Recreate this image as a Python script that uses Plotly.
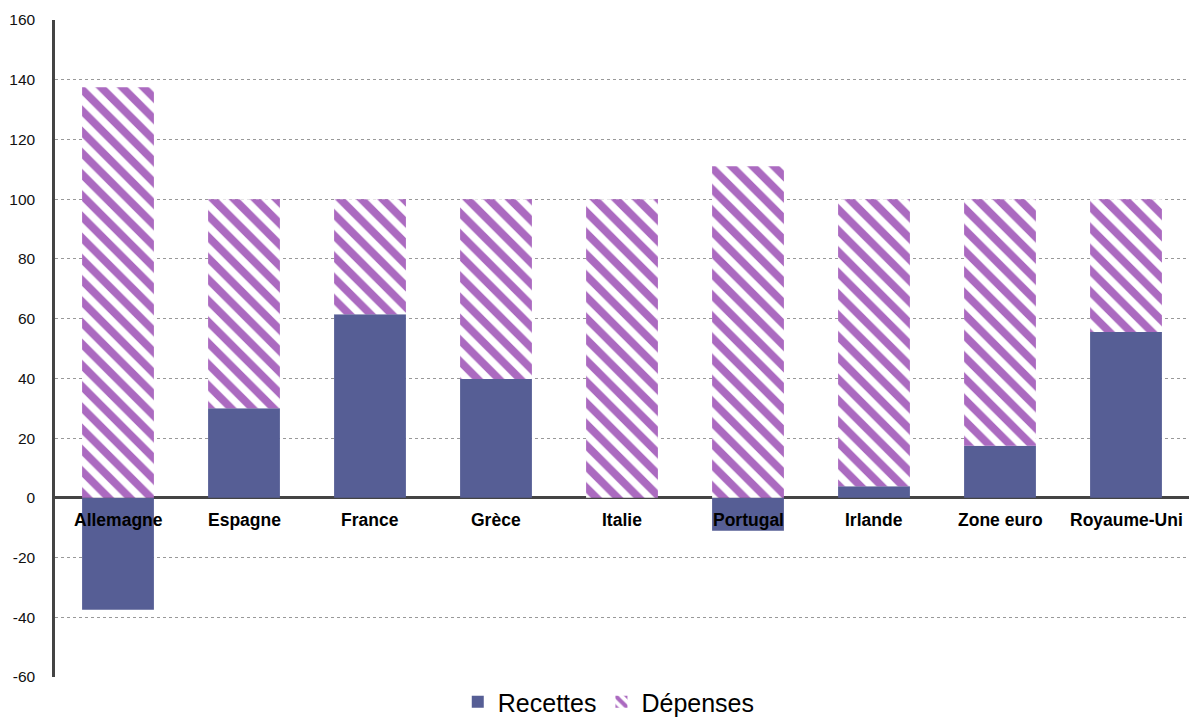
import plotly.graph_objects as go

categories = ["Allemagne", "Espagne", "France", "Grèce", "Italie", "Portugal", "Irlande", "Zone euro", "Royaume-Uni"]
recettes = [-37.5, 30, 61.5, 39.8, 0, -11, 3.9, 17.4, 55.5]
depenses = [137.5, 70, 38.5, 60.2, 100, 111, 96.1, 82.6, 44.5]
y_ticks = [-60, -40, -20, 0, 20, 40, 60, 80, 100, 120, 140, 160]
y_tick_labels = ["-60", "-40", "-20", "0", "20", "40", "60", "80", "100", "120", "140", "160"]

FONT = "Liberation Sans, Arial, Helvetica, sans-serif"

fig = go.Figure()
fig.add_trace(go.Bar(
    x=categories, y=recettes, name="Recettes",
    marker=dict(color="#565e95", line=dict(width=0)),
))
fig.add_trace(go.Bar(
    x=categories, y=depenses, name="Dépenses",
    marker=dict(color="white", line=dict(width=0),
                pattern=dict(shape="\\", fgcolor="#ab6ac0", bgcolor="white",
                             fgopacity=1, size=15, solidity=0.52,
                             fillmode="replace")),
))

for c in categories:
    fig.add_annotation(x=c, y=0, xref="x", yref="y", text=f"<b>{c}</b>",
                       showarrow=False, yanchor="top", yshift=-10,
                       font=dict(family=FONT, size=17.5, color="black"))

fig.update_layout(
    barmode="relative",
    bargap=0.43,
    width=1189, height=720,
    margin=dict(l=55, r=0, t=20, b=43, autoexpand=False),
    plot_bgcolor="white", paper_bgcolor="white",
    font=dict(family=FONT, size=15, color="#222"),
    showlegend=True,
    legend=dict(orientation="h", xref="container", yref="container",
                x=0.512, y=0.025, xanchor="center", yanchor="middle",
                font=dict(size=25, color="black"), itemsizing="constant",
                traceorder="normal"),
    xaxis=dict(showticklabels=False, showgrid=False, ticks="", showline=False,
               zeroline=False, automargin=False),
    yaxis=dict(range=[-60, 160], tickvals=y_ticks, ticktext=y_tick_labels,
               showgrid=True, automargin=False, ticklabelstandoff=14,
               gridcolor="#999", griddash="dot", gridwidth=1,
               zeroline=True, zerolinecolor="#444", zerolinewidth=2.5,
               showline=True, linecolor="#444", linewidth=2.5,
               ticks="", tickfont=dict(size=15.5, color="#111")),
)

fig.write_html("out.html", config={"displayModeBar": False},
               post_script="document.body.style.margin='0';document.body.style.overflow='hidden';")
